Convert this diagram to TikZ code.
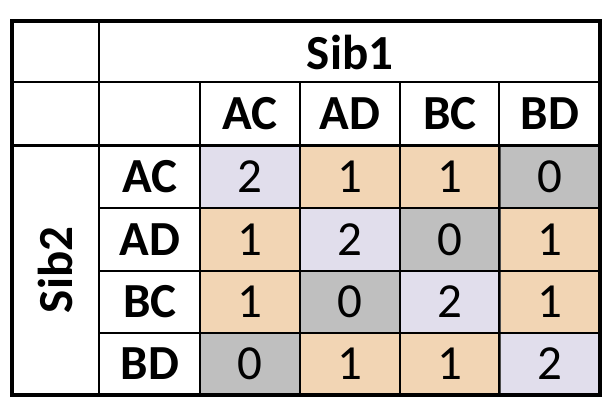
\documentclass[tikz,border=0pt]{standalone}
\usepackage{fontspec}
\setmainfont{Carlito}
\definecolor{lav}{RGB}{225,222,236}
\definecolor{peach}{RGB}{242,213,180}
\definecolor{grey}{RGB}{191,191,191}
\tikzset{
  cell/.style={draw=black!70,line width=1pt,minimum width=100pt,minimum height=62.5pt,inner sep=0pt,font=\fontsize{49}{52}\selectfont},
  head/.style={inner sep=0pt,font=\fontsize{49}{52}\selectfont\bfseries}
}
\begin{document}
\begin{tikzpicture}[x=1pt,y=-1pt]
        \useasboundingbox (0,0) rectangle (616,412);

        % count cells
		\node[cell,fill=lav]   (c11) at (250,176.5) {2};
		\node[cell,fill=peach] (c12) at (350,176.5) {1};
		\node[cell,fill=peach] (c13) at (450,176.5) {1};
		\node[cell,fill=grey]  (c14) at (550,176.5) {0};

		\node[cell,fill=peach] (c21) at (250,239.5) {1};
		\node[cell,fill=lav]   (c22) at (350,239.5) {2};
		\node[cell,fill=grey]  (c23) at (450,239.5) {0};
		\node[cell,fill=peach] (c24) at (550,239.5) {1};

		\node[cell,fill=peach] (c31) at (250,302) {1};
		\node[cell,fill=grey]  (c32) at (350,302) {0};
		\node[cell,fill=lav]   (c33) at (450,302) {2};
		\node[cell,fill=peach] (c34) at (550,302) {1};

		\node[cell,fill=grey]  (c41) at (250,364) {0};
		\node[cell,fill=peach] (c42) at (350,364) {1};
		\node[cell,fill=peach] (c43) at (450,364) {1};
		\node[cell,fill=lav]   (c44) at (550,364) {2};

		% grid
		\draw[line width=2.5pt] (12,82) -- (600,82);
		\draw[line width=2.5pt] (12,145.5) -- (600,145.5);
		\draw[line width=2.5pt] (99,208) -- (600,208);
		\draw[line width=2.5pt] (99,271) -- (600,271);
		\draw[line width=2.5pt] (99,333) -- (600,333);

		\draw[line width=2.5pt] (99,21) -- (99,395);
		\draw[line width=2.5pt] (200,82) -- (200,395);
		\draw[line width=2.5pt] (300,82) -- (300,395);
		\draw[line width=2.5pt] (400,82) -- (400,395);
		\draw[line width=2.5pt] (499,82) -- (499,395);

		\draw[line width=3.5pt] (12,21) -- (600,21) -- (600,395) -- (12,395) -- cycle;

		% headings
		\node[head] (sib1) at (350,52) {Sib1};
		\node[head,rotate=90] (sib2) at (55,270) {Sib2};

		\node[head] (cAC) at (250,114) {AC};
		\node[head] (cAD) at (350,114) {AD};
		\node[head] (cBC) at (450,114) {BC};
		\node[head] (cBD) at (550,114) {BD};

		\node[head] (rAC) at (150,176.5) {AC};
		\node[head] (rAD) at (150,239.5) {AD};
		\node[head] (rBC) at (150,302) {BC};
		\node[head] (rBD) at (150,364) {BD};
    \end{tikzpicture}
\end{document}
